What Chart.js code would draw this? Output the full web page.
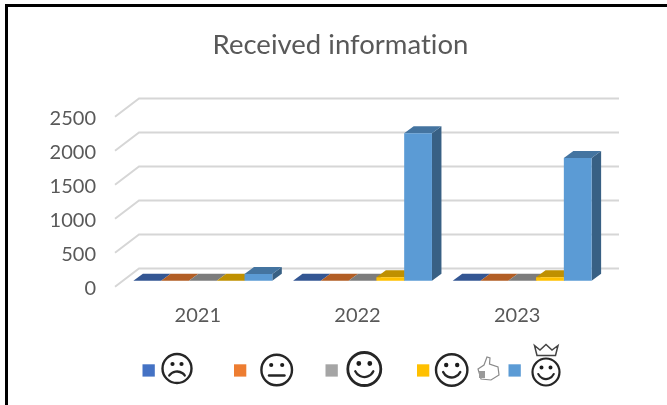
<!DOCTYPE html>
<html>
<head>
<meta charset="utf-8">
<style>
html,body{margin:0;padding:0;background:#fff;width:667px;height:405px;overflow:hidden}
#wrap{position:absolute;left:0;top:0;width:667px;height:405px}
#c{position:absolute;left:0;top:0;filter:blur(0.5px)}
#t{position:absolute;left:5px;top:4px;width:662px;height:2.5px;background:#000}
#l{position:absolute;left:5px;top:4px;width:2.5px;height:401px;background:#000}
</style>
<script src="https://cdn.jsdelivr.net/npm/chart.js@4"></script>
</head>
<body>
<div id="wrap"><canvas id="c" width="667" height="405"></canvas><div id="t"></div><div id="l"></div></div>
<script>
const titleText = "Received information";
const categories = ["2021", "2022", "2023"];
const seriesNames = ["Sad", "Neutral", "Happy", "Very happy", "Delighted"];
const sad = [0, 0, 0];
const neutral = [0, 0, 0];
const happy = [0, 0, 0];
const veryHappy = [0, 50, 50];
const delighted = [100, 2168, 1805];
const seriesColors = ["#4472C4", "#ED7D31", "#A5A5A5", "#FFC000", "#5B9BD5"];
const yTicks = [0, 500, 1000, 1500, 2000, 2500];

function shade(hex, f) {
  const n = parseInt(hex.slice(1), 16);
  return `rgb(${Math.round((n >> 16) * f)},${Math.round(((n >> 8) & 255) * f)},${Math.round((n & 255) * f)})`;
}

// Depth of the floor and of a bar, in canvas pixels
const FLOOR_DX = 24, FLOOR_DY = 18.3, BAR_DX = 9.5, BAR_DY = 7;

const noLigatures = {
  id: "noLigatures",
  beforeDraw(chart) { chart.ctx.letterSpacing = "0.01px"; }
};

const plane3d = {
  id: "plane3d",
  beforeDatasetsDraw(chart) {
    const c = chart.ctx, y = chart.scales.y, a = chart.chartArea;
    const left = a.left - 8, right = a.right - 7;
    c.save();
    c.strokeStyle = "#d6d6d6";
    c.lineWidth = 2;
    yTicks.forEach(v => {
      const p = y.getPixelForValue(v);
      c.beginPath();
      c.moveTo(left, p);
      c.lineTo(left + FLOOR_DX, p - FLOOR_DY);
      c.lineTo(right + FLOOR_DX, p - FLOOR_DY);
      c.stroke();
    });
    chart.data.datasets.forEach((ds, i) => {
      const base = ds.backgroundColor;
      chart.getDatasetMeta(i).data.forEach(b => {
        const l = b.x - b.width / 2, r = b.x + b.width / 2;
        c.fillStyle = shade(base, 0.62);
        c.beginPath();
        c.moveTo(r, b.base); c.lineTo(r + BAR_DX, b.base - BAR_DY);
        c.lineTo(r + BAR_DX, b.y - BAR_DY); c.lineTo(r, b.y);
        c.closePath(); c.fill();
        c.fillStyle = shade(base, 0.75);
        c.beginPath();
        c.moveTo(l, b.y); c.lineTo(l + BAR_DX, b.y - BAR_DY);
        c.lineTo(r + BAR_DX, b.y - BAR_DY); c.lineTo(r, b.y);
        c.closePath(); c.fill();
      });
    });
    c.restore();
  }
};

function circle(c, x, y, r) { c.beginPath(); c.arc(x, y, r, 0, Math.PI * 2); c.stroke(); }
function eyes(c, x, y, gap, r) {
  c.beginPath(); c.arc(x - gap, y, r, 0, Math.PI * 2); c.arc(x + gap, y, r, 0, Math.PI * 2); c.fill();
}
function smile(c, x, y, r) { c.beginPath(); c.arc(x, y, r, 0.14 * Math.PI, 0.86 * Math.PI); c.stroke(); }

const faceLegend = {
  id: "faceLegend",
  afterDraw(chart) {
    const c = chart.ctx;
    const squares = [142.5, 234, 325.5, 417, 508.5];
    c.save();
    chart.data.datasets.forEach((ds, i) => {
      c.fillStyle = ds.backgroundColor;
      c.fillRect(squares[i], 364.3, 12.3, 12.3);
    });
    c.strokeStyle = "#262626"; c.fillStyle = "#1c1c1c"; c.lineCap = "round";
    // sad
    c.lineWidth = 2.4;
    circle(c, 177, 368.5, 14.5);
    eyes(c, 177, 364, 4.5, 2.1);
    c.beginPath(); c.arc(177, 381, 9.5, 1.2 * Math.PI, 1.8 * Math.PI); c.stroke();
    // neutral
    circle(c, 276.7, 370, 15.3);
    eyes(c, 276.7, 365, 5.5, 2.1);
    c.beginPath(); c.moveTo(269, 375.5); c.lineTo(284.5, 375.5); c.stroke();
    // happy
    c.lineWidth = 2.8;
    circle(c, 364.3, 369, 16.5);
    c.lineWidth = 2.3;
    eyes(c, 364.3, 363.5, 5.5, 2.4);
    smile(c, 364.3, 367, 10);
    // very happy with thumb
    c.lineWidth = 2.4;
    circle(c, 451.7, 370, 15.7);
    eyes(c, 451.7, 365, 5.5, 2.2);
    smile(c, 451.7, 368, 9.5);
    c.strokeStyle = "#8a8a8a"; c.lineWidth = 1.2;
    c.beginPath();
    c.moveTo(478, 369); c.lineTo(484, 365); c.lineTo(487, 357); c.lineTo(490, 358);
    c.lineTo(489.5, 364); c.lineTo(498, 367); c.lineTo(499, 375); c.lineTo(491, 380);
    c.lineTo(481, 379); c.closePath(); c.stroke();
    c.fillStyle = "#999"; c.fillRect(479, 371, 6, 7);
    // delighted with crown
    c.strokeStyle = "#262626"; c.fillStyle = "#1c1c1c"; c.lineWidth = 2.2;
    circle(c, 546, 372, 13.5);
    eyes(c, 546, 367.5, 4.5, 2);
    smile(c, 546, 370.5, 8.5);
    c.lineWidth = 1.5; c.lineCap = "butt";
    c.strokeStyle = "#444";
    c.beginPath();
    c.moveTo(537, 355.5); c.lineTo(534.5, 345.5); c.lineTo(540, 350); c.lineTo(546, 344.5);
    c.lineTo(552, 350); c.lineTo(558, 345.5); c.lineTo(555.5, 355.5); c.closePath();
    c.stroke();
    c.restore();
  }
};

new Chart(document.getElementById("c"), {
  type: "bar",
  data: {
    labels: categories,
    datasets: [sad, neutral, happy, veryHappy, delighted].map((d, i) => ({
      label: seriesNames[i], data: d, backgroundColor: seriesColors[i], yAxisID: "yBar",
      categoryPercentage: 0.87, barPercentage: 1, borderWidth: 0
    }))
  },
  plugins: [noLigatures, plane3d, faceLegend],
  options: {
    responsive: false, animation: false,
    layout: { padding: { left: 14, right: 0, top: 0, bottom: 0 } },
    plugins: {
      legend: { display: false }, tooltip: { enabled: false },
      title: { display: true, text: titleText, color: "#595959",
        font: { family: "Lato", size: 27.5, weight: "normal", lineHeight: 1.2 },
        padding: { top: 29, bottom: 54.7 } }
    },
    scales: {
      x: {
        grid: { display: false }, border: { display: false },
        ticks: { color: "#595959", font: { family: "Lato", size: 20 }, labelOffset: -5, padding: 9, maxRotation: 0 },
        afterFit(s) { s.height = 118.3; }
      },
      y: {
        min: 0, max: 2500, position: "left",
        grid: { display: false, drawTicks: false }, border: { display: false },
        ticks: { stepSize: 500, color: "#595959", font: { family: "Lato", size: 20 }, padding: 27, labelOffset: 2,
          callback: v => String(v) },
        afterFit(s) { s.width = 109; }
      },
      yBar: {
        min: -88, max: 2412, position: "right",
        grid: { display: false, drawTicks: false }, border: { display: false },
        ticks: { display: false },
        afterFit(s) { s.width = 65; }
      }
    }
  }
});
</script>
</body>
</html>
